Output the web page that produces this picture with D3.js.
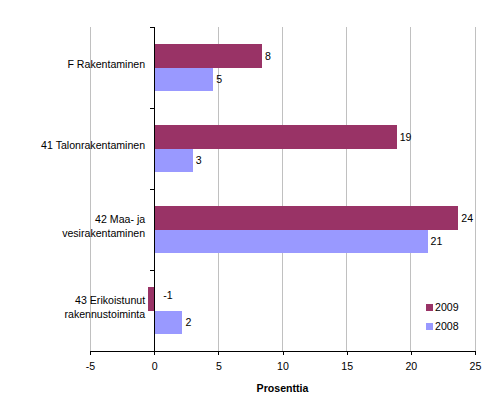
<!DOCTYPE html>
<html>
<head>
<meta charset="utf-8">
<script src="https://cdn.jsdelivr.net/npm/d3@7"></script>
<style>
  body { margin: 0; background: #fff; }
  text { font-family: "Liberation Sans", Arial, sans-serif; font-size: 10.6px; fill: #000; }
</style>
</head>
<body>
<div id="chart"></div>
<script>
// categories (top to bottom), label lines
const categories = [
  ["F Rakentaminen"],
  ["41 Talonrakentaminen"],
  ["42 Maa- ja", "vesirakentaminen"],
  ["43 Erikoistunut", "rakennustoiminta"]
];
const seriesNames = ["2009", "2008"];
const values2009 = [8.4, 18.9, 23.7, -0.5];
const values2008 = [4.6, 3.0, 21.3, 2.2];
const xTicks = [-5, 0, 5, 10, 15, 20, 25];

const colors = { "2009": "#993366", "2008": "#9999ff" };

const width = 490, height = 415;
const margin = { top: 27, right: 15, bottom: 64, left: 90 };

const fmt = d3.formatLocale({ decimal: ".", thousands: "", grouping: [3], currency: ["", ""], minus: "-" }).format(".0f");

const svg = d3.select("#chart")
  .append("svg")
  .attr("width", width)
  .attr("height", height);

const x = d3.scaleLinear()
  .domain([-5, 25])
  .range([margin.left, width - margin.right]);

const catKeys = categories.map(c => c.join(" "));
const y0 = d3.scaleBand()
  .domain(catKeys)
  .range([margin.top, height - margin.bottom])
  .paddingInner(0.43)
  .paddingOuter(0.215);

const y1 = d3.scaleBand()
  .domain(seriesNames)
  .range([0, y0.bandwidth()]);

const data = catKeys.map((k, i) => ({
  key: k,
  lines: categories[i],
  vals: [
    { name: "2009", value: values2009[i] },
    { name: "2008", value: values2008[i] }
  ]
}));

const plotTop = margin.top, plotBottom = height - margin.bottom;

// gridlines
svg.append("g")
  .selectAll("line")
  .data(xTicks.filter(t => t !== 0))
  .enter()
  .append("line")
  .attr("x1", d => x(d)).attr("x2", d => x(d))
  .attr("y1", plotTop).attr("y2", plotBottom)
  .attr("stroke", "#c0c0c0")
  .attr("stroke-width", 1)
  .attr("shape-rendering", "crispEdges");

// bars
const groups = svg.append("g")
  .selectAll("g")
  .data(data)
  .enter()
  .append("g")
  .attr("transform", d => "translate(0," + y0(d.key) + ")");

groups.selectAll("rect")
  .data(d => d.vals)
  .enter()
  .append("rect")
  .attr("x", d => x(Math.min(0, d.value)))
  .attr("y", d => y1(d.name))
  .attr("width", d => Math.abs(x(d.value) - x(0)))
  .attr("height", y1.bandwidth())
  .attr("fill", d => colors[d.name])
  .attr("shape-rendering", "crispEdges");

groups.selectAll(".val")
  .data(d => d.vals)
  .enter()
  .append("text")
  .attr("class", "val")
  .attr("x", d => d.value >= 0 ? x(d.value) + 3 : x(0) + 9)
  .attr("y", d => y1(d.name) + y1.bandwidth() / 2 + (d.value < 0 ? -4 : 0))
  .attr("dy", "0.35em")
  .text(d => fmt(d.value));

// category labels
const catLabels = svg.append("g")
  .selectAll("text")
  .data(data)
  .enter()
  .append("text")
  .attr("text-anchor", "end")
  .attr("x", x(0) - 9)
  .attr("y", d => y0(d.key) + y0.bandwidth() / 2 - (d.lines.length - 1) * 7)
  .attr("dy", "0.35em");

catLabels.selectAll("tspan")
  .data(d => d.lines)
  .enter()
  .append("tspan")
  .attr("x", x(0) - 9)
  .attr("dy", (d, i) => i === 0 ? 0 : 14)
  .text(d => d);

// y axis line at zero with category ticks
const step = y0.step();
const yTickPos = d3.range(catKeys.length + 1).map(i => plotTop + i * step);
svg.append("line")
  .attr("x1", x(0)).attr("x2", x(0))
  .attr("y1", plotTop).attr("y2", plotBottom)
  .attr("stroke", "#000")
  .attr("shape-rendering", "crispEdges");
svg.append("g")
  .selectAll("line")
  .data(yTickPos)
  .enter()
  .append("line")
  .attr("x1", x(0) - 4).attr("x2", x(0))
  .attr("y1", d => d).attr("y2", d => d)
  .attr("stroke", "#000")
  .attr("shape-rendering", "crispEdges");

// x axis
const xAxis = svg.append("g")
  .attr("transform", "translate(0," + plotBottom + ")")
  .call(d3.axisBottom(x).tickValues(xTicks).tickSize(4).tickSizeOuter(0).tickPadding(7).tickFormat(fmt));
xAxis.select(".domain").attr("stroke", "#000").attr("shape-rendering", "crispEdges");
xAxis.selectAll(".tick line").attr("stroke", "#000").attr("shape-rendering", "crispEdges");
xAxis.selectAll("text")
  .attr("font-family", "Liberation Sans, Arial, sans-serif")
  .attr("font-size", "10.6px")
  .attr("fill", "#000");

svg.append("text")
  .attr("x", (x.range()[0] + x.range()[1]) / 2)
  .attr("y", plotBottom + 41)
  .attr("text-anchor", "middle")
  .style("font-weight", "bold")
  .text("Prosenttia");

// legend
const legend = svg.append("g")
  .selectAll("g")
  .data(seriesNames)
  .enter()
  .append("g")
  .attr("transform", (d, i) => "translate(426," + (304 + i * 19) + ")");
legend.append("rect")
  .attr("width", 7).attr("height", 7)
  .attr("fill", d => colors[d]);
legend.append("text")
  .attr("x", 9)
  .attr("y", 3.5)
  .attr("dy", "0.35em")
  .text(d => d);
</script>
</body>
</html>
